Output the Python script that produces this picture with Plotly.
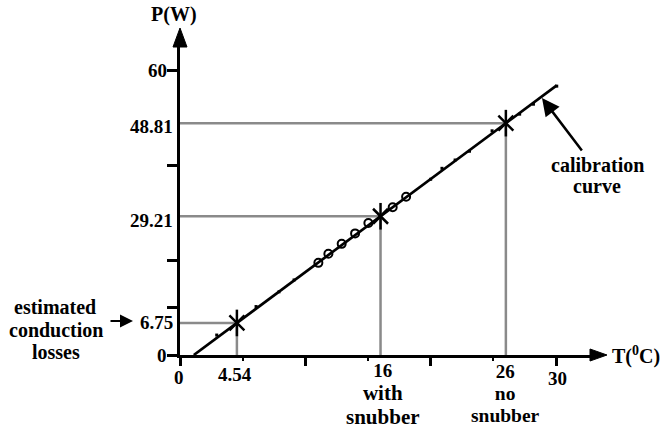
import plotly.graph_objects as go

# ---------------- data ----------------
op_T = [4.54, 16, 26]                 # operating points (asterisks)
op_P = [6.75, 29.21, 48.81]
meas_T = [11.04, 11.84, 12.9, 13.97, 15.03, 16.97, 18.04]   # open circles
meas_P = [19.4, 21.3, 23.4, 25.6, 27.8, 31.1, 33.3]
cal_T = [2.93, 6.07, 7.9, 9.1, 20.0, 20.9, 21.95, 23.1, 24.9, 27.1, 28.2, 30.06]   # small calibration dots
cal_P = [4.2, 10.2, 13.3, 15.8, 37.0, 39.3, 41.05, 42.9, 47.2, 50.7, 52.8, 56.6]
line_T = [1.1, 30.06]                 # calibration curve
line_P = [0, 56.77]
x_ticks = [0, 10, 20, 30]
x_minor = [5, 15, 25]
y_ticks = [0, 10, 20, 40, 60]
y_labels = ["0", "6.75", "29.21", "48.81", "60"]
y_label_vals = [0, 6.75, 29.21, 48.81, 60]
x_labels = ["0", "4.54", "30"]
x_label_vals = [0, 4.54, 30]
case_T = [16, 26]
case_names = [["with", "snubber"], ["no", "snubber"]]

# ---------------- layout geometry (pixels) ----------------
FW, FH = 663, 431
L, R, T, B = 180, 591, 47, 355
W, H = R - L, B - T
XPX = 376 / 30.0      # px per degree
YPX = 285 / 60.0      # px per watt

def px(x):
    return (x - L) / W

def py(y):
    return (B - y) / H

FONT = "Liberation Serif, Times New Roman, serif"
GRAY = "#8a8a8a"

fig = go.Figure()

# gray guide lines (L shapes) from the operating points
gx, gy = [], []
for t, p in zip(op_T, op_P):
    gx += [0, t, t, None]
    gy += [p, p, 0, None]
fig.add_trace(go.Scatter(x=gx, y=gy, mode="lines",
                         line=dict(color=GRAY, width=2.5), hoverinfo="skip"))

# calibration line
fig.add_trace(go.Scatter(x=line_T, y=line_P, mode="lines",
                         line=dict(color="black", width=2.7)))
# calibration dots
fig.add_trace(go.Scatter(x=cal_T, y=cal_P, mode="markers",
                         marker=dict(symbol="square", size=3, color="black")))
# measured points (open circles)
fig.add_trace(go.Scatter(x=meas_T, y=meas_P, mode="markers",
                         marker=dict(symbol="circle-open", size=8, color="black",
                                     line=dict(color="black", width=2))))
# asterisks (6-armed)
fig.add_trace(go.Scatter(x=op_T, y=op_P, mode="markers",
                         marker=dict(symbol="x-thin-open", size=15, color="black",
                                     line=dict(color="black", width=2.5))))
fig.add_trace(go.Scatter(x=op_T, y=op_P, mode="markers",
                         marker=dict(symbol="line-ns-open", size=19, color="black",
                                     line=dict(color="black", width=2.5))))

annotations = []

def label(text, x, y, xanchor="center", yanchor="middle", xshift=0, yshift=0, size=19,
          xref="x", yref="y"):
    annotations.append(dict(text="<b>" + text + "</b>", x=x, y=y, xref=xref, yref=yref,
                            xanchor=xanchor, yanchor=yanchor, xshift=xshift, yshift=yshift,
                            showarrow=False, font=dict(family=FONT, size=size, color="black")))

# y-axis labels
y_shifts = {"0": (-11, 0), "6.75": (-5, 0), "29.21": (-5, -4), "48.81": (-5, -3), "60": (-11, 0)}
for txt, v in zip(y_labels, y_label_vals):
    xs, ys = y_shifts[txt]
    label(txt, 0, v, xanchor="right", xshift=xs, yshift=ys)

# x-axis labels
x_shifts = {"0": (-1, -22), "4.54": (-2, -19), "30": (1, -23)}
for txt, v in zip(x_labels, x_label_vals):
    xs, ys = x_shifts[txt]
    label(txt, v, 0, xshift=xs, yshift=ys)

# the two cases: value + description in one block
case_fmt = [dict(base=18, name_size=21, xshift=2, yshift=-39),
            dict(base=17, name_size=19.5, xshift=0, yshift=-38)]
for t, names, f in zip(case_T, case_names, case_fmt):
    ns = f["name_size"]
    txt = (f"<span style='font-size:19px'>{t}</span><br>"
           f"<span style='font-size:{ns}px'>{names[0]}</span><br>"
           f"<span style='font-size:{ns}px'>{names[1]}</span>")
    label(txt, t, 0, xshift=f["xshift"], yshift=f["yshift"], size=f["base"])

# axis titles
label("P(W)", px(174), py(15), xref="paper", yref="paper", size=20)
label("T(<sup>0</sup>C)", px(610), py(355), xanchor="left", xref="paper", yref="paper", size=20)

# side notes
label("estimated", px(55), py(307), xref="paper", yref="paper", size=20)
label("conduction", px(56), py(330), xref="paper", yref="paper", size=20)
label("losses", px(56), py(352), xref="paper", yref="paper", size=20)
label("calibration", px(597), py(165), xref="paper", yref="paper", size=20)
label("curve", px(597), py(186), xref="paper", yref="paper", size=20)

# pointer arrows
annotations.append(dict(text="", x=px(133), y=py(321), xref="paper", yref="paper",
                        ax=-24, ay=0, showarrow=True, arrowhead=2, arrowsize=1.3,
                        arrowwidth=2, arrowcolor="black"))
annotations.append(dict(text="", x=px(542), y=py(98), xref="paper", yref="paper",
                        ax=41, ay=54, showarrow=True, arrowhead=2, arrowsize=1.4,
                        arrowwidth=2.5, arrowcolor="black"))

# axis arrowheads (paper-referenced triangles)
shapes = [
    dict(type="path", xref="paper", yref="paper",
         path=f"M {px(173)} {py(47)} L {px(187)} {py(47)} L {px(180)} {py(28)} Z",
         fillcolor="black", line=dict(color="black", width=1)),
    dict(type="path", xref="paper", yref="paper",
         path=f"M {px(590)} {py(349)} L {px(590)} {py(361)} L {px(607)} {py(355)} Z",
         fillcolor="black", line=dict(color="black", width=1)),
]

fig.update_layout(
    width=FW, height=FH,
    margin=dict(l=L, r=FW - R, t=T, b=FH - B, pad=0),
    plot_bgcolor="white", paper_bgcolor="white",
    showlegend=False,
    annotations=annotations,
    shapes=shapes,
    xaxis=dict(range=[0, W / XPX], showline=True, linewidth=3, linecolor="black",
               ticks="outside", tickvals=x_ticks, ticklen=8, tickwidth=3, tickcolor="black",
               showticklabels=False, showgrid=False, zeroline=False,
               minor=dict(tickvals=x_minor, ticks="outside", ticklen=3, tickwidth=2,
                          tickcolor="black", showgrid=False)),
    yaxis=dict(range=[0, H / YPX], showline=True, linewidth=3, linecolor="black",
               ticks="outside", tickvals=y_ticks, ticklen=10, tickwidth=3, tickcolor="black",
               showticklabels=False, showgrid=False, zeroline=False),
)

fig.write_html("out.html")
